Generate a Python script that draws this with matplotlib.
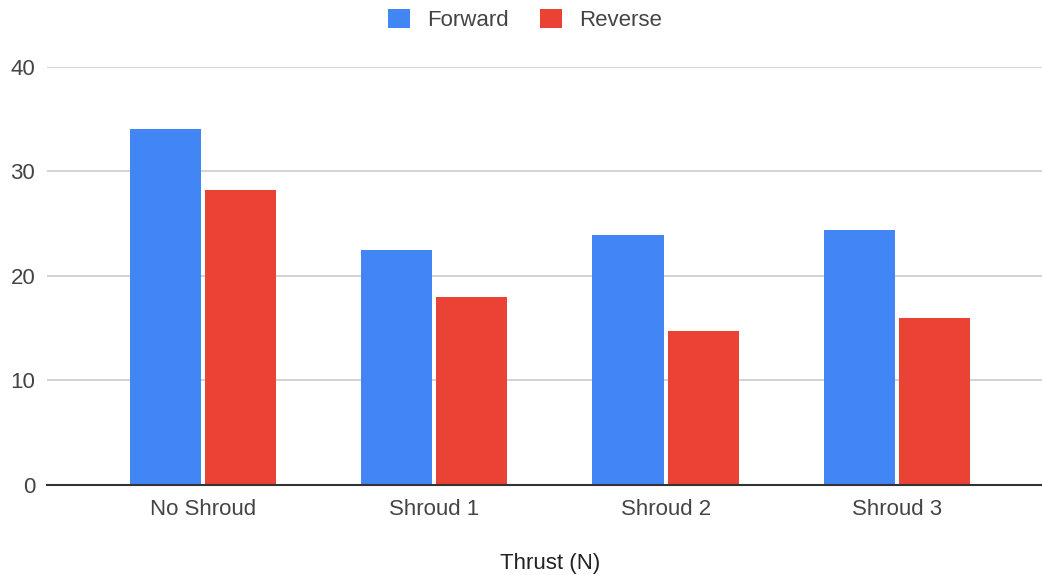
import matplotlib
matplotlib.use("Agg")
import matplotlib.pyplot as plt
from matplotlib.patches import Patch
import numpy as np

categories = ["No Shroud", "Shroud 1", "Shroud 2", "Shroud 3"]
forward = [34.0, 22.5, 23.9, 24.4]
reverse = [28.2, 18.0, 14.75, 16.0]
y_ticks = [0, 10, 20, 30, 40]
x_label = "Thrust (N)"
series_names = ["Forward", "Reverse"]

BLUE = "#4285F4"
RED = "#EA4335"
FS = 16

plt.rcParams["font.family"] = ["Liberation Sans", "DejaVu Sans"]

W, H = 1042, 575
fig = plt.figure(figsize=(W / 100, H / 100), dpi=100)
ax = fig.add_axes([47 / W, 1 - 485 / H, 1 - 47 / W, (485 - 66.7) / H])

x = np.arange(len(categories))
bw = 0.307
off = 0.1626
ax.bar(x - off, forward, width=bw, color=BLUE, zorder=3)
ax.bar(x + off, reverse, width=bw, color=RED, zorder=3)

ax.set_ylim(0, 40)
ax.set_xlim(-0.674, 3.627)
ax.set_yticks(y_ticks)
ax.set_xticks(x)
ax.set_xticklabels(categories)
ax.tick_params(axis="both", length=0, labelsize=FS, colors="#444444")
ax.tick_params(axis="x", pad=10)
ax.tick_params(axis="y", pad=8.5)
ax.grid(axis="y", color="#cccccc", linewidth=1.2, zorder=0)
for s in ["top", "right", "left"]:
    ax.spines[s].set_visible(False)
ax.spines["bottom"].set_color("#333333")
ax.spines["bottom"].set_linewidth(1.5)
ax.spines["bottom"].set_zorder(4)

fig.text(550 / W, 1 - 563 / H, x_label, ha="center", va="center",
         fontsize=FS, color="#222222")

handles = [Patch(facecolor=BLUE, edgecolor="none"), Patch(facecolor=RED, edgecolor="none")]
leg = fig.legend(handles, series_names, loc="center", bbox_to_anchor=(525 / W, 1 - 20 / H),
                 ncol=2, frameon=False, fontsize=FS, handlelength=0.95, handleheight=0.95,
                 handletextpad=0.77, columnspacing=1.45)
for t in leg.get_texts():
    t.set_color("#444444")

fig.savefig("out.png", dpi=100)
